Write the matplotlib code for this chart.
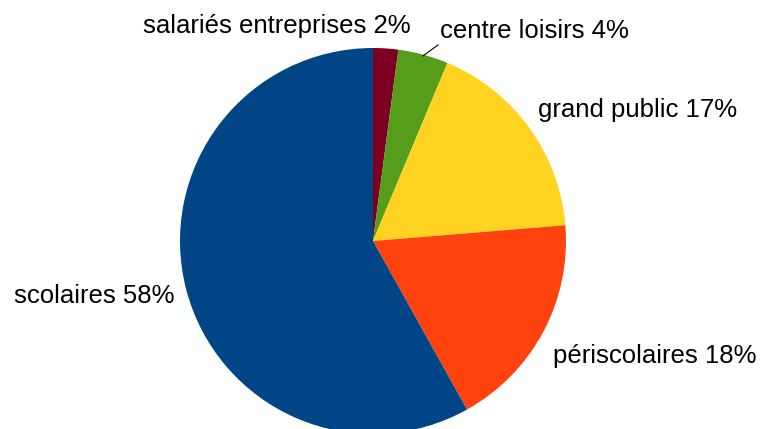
import matplotlib
matplotlib.use("Agg")
import matplotlib.pyplot as plt

# data
categories = ["salariés entreprises", "centre loisirs", "grand public", "périscolaires", "scolaires"]
shares = [2.1, 4.2, 17.4, 18.2, 58.1]
pct_labels = ["2%", "4%", "17%", "18%", "58%"]
colors = ["#7E0021", "#579D1C", "#FFD320", "#FF420E", "#004586"]

# label anchors (data units, pie radius = 1), baseline aligned
label_pos = [(0.197, 1.078), (0.347, 1.052), (0.855, 0.642), (0.933, -0.632), (-1.026, -0.321)]
label_ha = ["right", "left", "left", "left", "right"]

plt.rcParams["font.family"] = ["Liberation Sans", "DejaVu Sans"]

W, H, DPI = 761, 429, 100
cx, cy, r = 373, 241, 193  # pie centre and radius in pixels

fig = plt.figure(figsize=(W / DPI, H / DPI), dpi=DPI)
ax = fig.add_axes([0, 0, 1, 1])
ax.set_xlim(-cx / r, (W - cx) / r)
ax.set_ylim(-(H - cy) / r, cy / r)
ax.axis("off")

ax.pie(shares, colors=colors, startangle=90, counterclock=False,
       radius=1, center=(0, 0), frame=True,
       wedgeprops=dict(linewidth=0))
ax.set_xlim(-cx / r, (W - cx) / r)
ax.set_ylim(-(H - cy) / r, cy / r)
ax.axis("off")

for cat, pct, (x, y), ha in zip(categories, pct_labels, label_pos, label_ha):
    ax.text(x, y, f"{cat} {pct}", ha=ha, va="baseline", fontsize=18.5, color="black")

# leader line for the small green slice
ax.plot([0.259, 0.337], [0.959, 1.016], color="black", lw=0.8)

fig.savefig("out.png", dpi=DPI)
